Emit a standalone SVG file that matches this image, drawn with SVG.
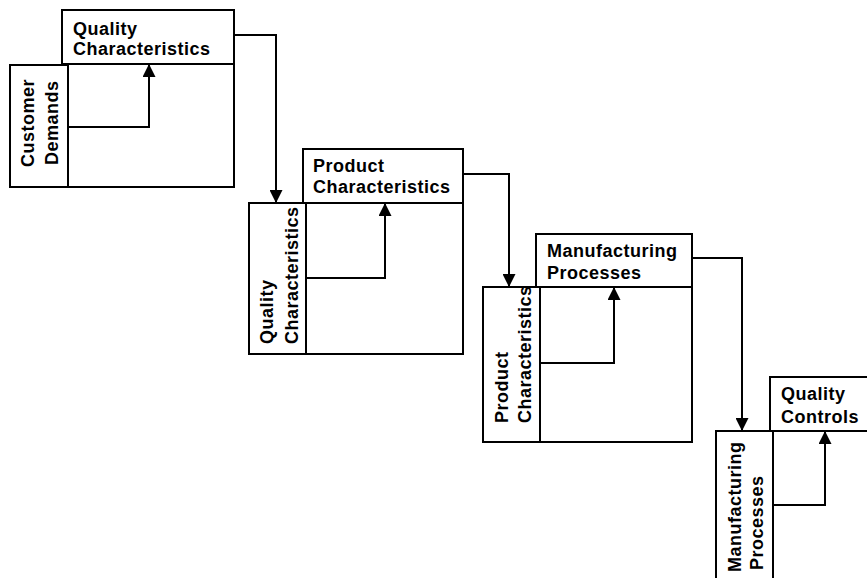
<svg xmlns="http://www.w3.org/2000/svg" width="867" height="578" viewBox="0 0 867 578">
<style>
.box{fill:#fff;stroke:#000;stroke-width:2}
.ln{fill:none;stroke:#000;stroke-width:2;marker-end:url(#ah)}
text{font-family:"Liberation Sans",Arial,sans-serif;font-weight:bold;font-size:18px;letter-spacing:0.5px;fill:#000}
</style>
<defs>
<marker id="ah" viewBox="0 0 12 12" refX="12" refY="6" markerWidth="13" markerHeight="13" markerUnits="userSpaceOnUse" orient="auto">
<path d="M0,0 L12,6 L0,12 z" fill="#000"/>
</marker>
</defs>
<rect width="867" height="578" fill="#fff"/>
<g id="n1">
<rect class="box" x="62" y="10" width="172" height="54"/>
<rect class="box" x="68" y="64" width="166" height="123"/>
<rect class="box" x="10" y="65" width="58" height="122"/>
<text x="73" y="34.5">Quality</text>
<text x="73" y="55">Characteristics</text>
<text transform="translate(34,167) rotate(-90)">Customer</text>
<text transform="translate(58,165) rotate(-90)">Demands</text>
</g>
<g id="n2">
<rect class="box" x="303" y="149" width="160" height="54"/>
<rect class="box" x="306" y="203" width="157" height="151"/>
<rect class="box" x="249" y="203" width="57" height="151"/>
<text x="313" y="172">Product</text>
<text x="313" y="193">Characteristics</text>
<text transform="translate(273,344) rotate(-90)">Quality</text>
<text transform="translate(298,344) rotate(-90)">Characteristics</text>
</g>
<g id="n3">
<rect class="box" x="536" y="234" width="156" height="53"/>
<rect class="box" x="540" y="287" width="152" height="155"/>
<rect class="box" x="483" y="287" width="57" height="155"/>
<text x="547" y="257">Manufacturing</text>
<text x="547" y="279">Processes</text>
<text transform="translate(508,423) rotate(-90)">Product</text>
<text transform="translate(531,423) rotate(-90)">Characteristics</text>
</g>
<g id="n4">
<rect class="box" x="770" y="377" width="110" height="54"/>
<rect class="box" x="773" y="431" width="110" height="160"/>
<rect class="box" x="716" y="431" width="57" height="160"/>
<text x="781" y="400">Quality</text>
<text x="781" y="423">Controls</text>
<text transform="translate(741,572) rotate(-90)">Manufacturing</text>
<text transform="translate(763,570) rotate(-90)">Processes</text>
</g>
<g id="connectors">
<path class="ln" d="M234,35 H276 V203"/>
<path class="ln" d="M463,174 H509 V287"/>
<path class="ln" d="M692,258 H742 V431"/>
<path class="ln" d="M68,127 H149 V64"/>
<path class="ln" d="M306,278 H385 V203"/>
<path class="ln" d="M540,363 H614 V287"/>
<path class="ln" d="M773,505 H825 V431"/>
</g>
</svg>
